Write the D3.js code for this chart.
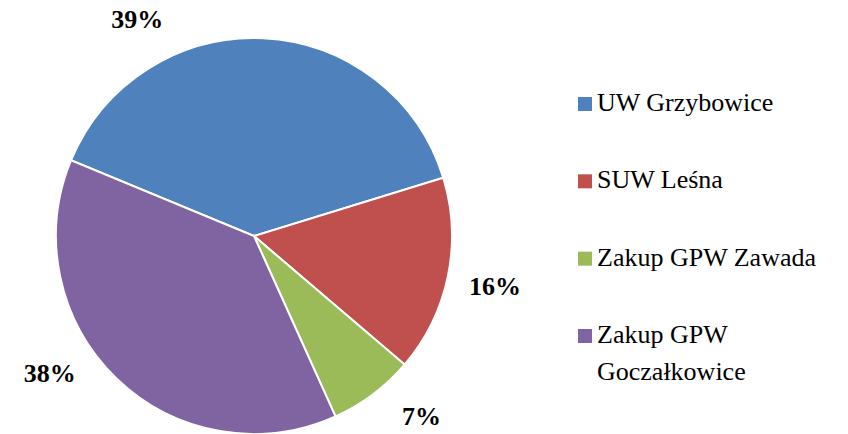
<!DOCTYPE html>
<html><head><meta charset="utf-8">
<style>
  @font-face { font-family: 'ChartSerif'; font-weight: normal; src: local('Liberation Serif'), local('LiberationSerif'), local('Times New Roman'); }
  @font-face { font-family: 'ChartSerif'; font-weight: bold; src: local('Liberation Serif Bold'), local('LiberationSerif-Bold'), local('Times New Roman Bold'); }
</style>
</head><body style="margin:0">
<script src="https://cdn.jsdelivr.net/npm/d3@7"></script>
<script>
// dane
var names = ['UW Grzybowice', 'SUW Leśna', 'Zakup GPW Zawada', 'Zakup GPW Goczałkowice'];
var legendLines = [['UW Grzybowice'], ['SUW Leśna'], ['Zakup GPW Zawada'], ['Zakup GPW', 'Goczałkowice']];
var shares = [39, 16, 7, 38];
var colors = ['#4f81bd', '#c0504d', '#9bbb59', '#8064a2'];
// przesunięcie etykiet względem środka wycinka (stopnie)
var labelShift = [-31, 0, -6, 12];

var W = 848, H = 434;
var cx = 254, cy = 236, r = 198;
var rot = -67.5 * Math.PI / 180;
var fontFam = "'Liberation Serif', 'ChartSerif', 'Times New Roman', serif";

var svg = d3.select('body').append('svg')
  .attr('width', W).attr('height', H);

var pie = d3.pie().sort(null).value(function(d){ return d; })
  .startAngle(rot).endAngle(rot + 2 * Math.PI);
var arc = d3.arc().innerRadius(0).outerRadius(r);
var arcs = pie(shares);

var g = svg.append('g').attr('transform', 'translate(' + cx + ',' + cy + ')');
g.selectAll('path').data(arcs).enter().append('path')
  .attr('d', arc)
  .attr('fill', function(d, i){ return colors[i]; })
  .attr('stroke', '#fff')
  .attr('stroke-width', 2);

// etykiety procentowe - bezpośrednio w svg
var labelR = 246;
function labelAngle(d, i){
  return (d.startAngle + d.endAngle) / 2 + labelShift[i] * Math.PI / 180;
}
svg.selectAll('text.pct').data(arcs).enter().append('text')
  .attr('class', 'pct')
  .attr('x', function(d, i){ return cx + labelR * Math.sin(labelAngle(d, i)); })
  .attr('y', function(d, i){ return cy - labelR * Math.cos(labelAngle(d, i)) + 9; })
  .attr('text-anchor', 'middle')
  .attr('font-family', fontFam)
  .style('font-family', fontFam)
  .style('font-weight', 'bold')
  .style('font-size', '26px')
  .attr('fill', '#000')
  .text(function(d){ return d.data + '%'; });

// legenda
var rowY = d3.scalePoint().domain(names).range([111, 343]);
svg.selectAll('rect.key').data(names).enter().append('rect')
  .attr('class', 'key')
  .attr('x', 578).attr('y', function(d){ return rowY(d) - 14; })
  .attr('width', 14).attr('height', 14)
  .attr('fill', function(d, i){ return colors[i]; });
svg.selectAll('text.leg').data(names).enter().append('text')
  .attr('class', 'leg')
  .attr('x', 597)
  .attr('y', function(d){ return rowY(d); })
  .attr('font-family', fontFam)
  .style('font-family', fontFam)
  .style('font-size', '26px')
  .attr('fill', '#000')
  .selectAll('tspan').data(function(d, i){ return legendLines[i]; }).enter().append('tspan')
  .attr('x', 597)
  .attr('dy', function(d, j){ return j === 0 ? 0 : 37; })
  .text(function(d){ return d; });
</script></body></html>
